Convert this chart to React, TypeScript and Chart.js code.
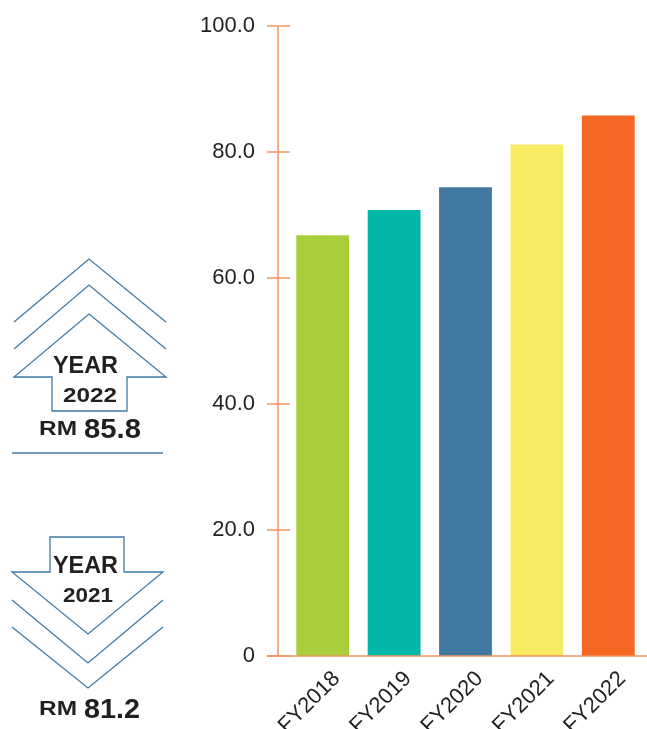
import React, { useEffect, useRef } from "react";
import { Chart, registerables } from "chart.js";

Chart.register(...registerables);

const categories: string[] = ["FY2018", "FY2019", "FY2020", "FY2021", "FY2022"];
const values: number[] = [66.8, 70.8, 74.4, 81.2, 85.8];
const barColors: string[] = ["#a8ce3b", "#00b7a8", "#4279a2", "#f7ec61", "#f46723"];
const yTicks: number[] = [0, 20, 40, 60, 80, 100];

const AXIS = "#f4935f";
const TEXT = "#231f20";
const BLUE = "#3f7aa6";

const axisPlugin = {
  id: "customAxes",
  afterDatasetsDraw(chart: any) {
    const { ctx, chartArea, scales } = chart;
    const y = scales.y;
    const axisX = chartArea.left - 9;
    ctx.save();
    ctx.strokeStyle = AXIS;
    ctx.lineWidth = 1.5;
    ctx.beginPath();
    ctx.moveTo(axisX, y.getPixelForValue(100));
    ctx.lineTo(axisX, y.getPixelForValue(0));
    ctx.stroke();
    yTicks.forEach((t) => {
      const py = y.getPixelForValue(t);
      ctx.beginPath();
      ctx.moveTo(axisX - 11, py);
      ctx.lineTo(axisX + 12, py);
      ctx.stroke();
    });
    const py0 = y.getPixelForValue(0);
    ctx.beginPath();
    ctx.moveTo(axisX - 11, py0);
    ctx.lineTo(chart.width, py0);
    ctx.stroke();
    ctx.restore();
  },
};

function ChartCanvas() {
  const ref = useRef<HTMLCanvasElement | null>(null);
  useEffect(() => {
    if (!ref.current) return;
    const chart = new Chart(ref.current, {
      type: "bar",
      data: {
        labels: categories,
        datasets: [
          {
            data: values,
            backgroundColor: barColors,
            borderWidth: 0,
            categoryPercentage: 1,
            barPercentage: 0.74,
          },
        ],
      },
      options: {
        responsive: false,
        animation: false,
        layout: { padding: { top: 26, right: 3, left: 0, bottom: 0 } },
        plugins: { legend: { display: false }, tooltip: { enabled: false } },
        scales: {
          x: {
            grid: { display: false, drawTicks: false },
            border: { display: false },
            ticks: {
              autoSkip: false,
              maxRotation: 45,
              minRotation: 45,
              padding: 10,
              labelOffset: 14,
              color: TEXT,
              font: { family: "Liberation Sans, Arial, sans-serif", size: 22 },
            },
            afterFit: (s: any) => {
              s.height = 73;
              s.paddingTop = 0;
              s.paddingBottom = 0;
              s.paddingLeft = 0;
              s.paddingRight = 0;
            },
          },
          y: {
            min: 0,
            max: 100,
            grid: { display: false, drawTicks: false },
            border: { display: false },
            afterBuildTicks: (s: any) => {
              s.ticks = yTicks.map((v) => ({ value: v }));
            },
            ticks: {
              padding: 32,
              color: TEXT,
              font: { family: "Liberation Sans, Arial, sans-serif", size: 22 },
              callback: (v: any) => (Number(v) === 0 ? "0" : Number(v).toFixed(1)),
            },
            afterFit: (s: any) => {
              s.width = 287;
              s.paddingTop = 0;
              s.paddingBottom = 0;
              s.paddingLeft = 0;
              s.paddingRight = 0;
            },
          },
        },
      },
      plugins: [axisPlugin],
    });
    return () => chart.destroy();
  }, []);
  return (
    <canvas
      ref={ref}
      width={647}
      height={729}
      style={{ position: "absolute", left: 0, top: 0, width: 647, height: 729 }}
    />
  );
}

function T(props: { x: number; y: number; w: number; size: number; children: string }) {
  return (
    <text
      x={props.x}
      y={props.y}
      textLength={props.w}
      lengthAdjust="spacingAndGlyphs"
      fontFamily="Liberation Sans, Arial, Helvetica, sans-serif"
      fontWeight="bold"
      fontSize={props.size}
      fill={TEXT}
    >
      {props.children}
    </text>
  );
}

function SidePanel() {
  const stroke = { fill: "none", stroke: BLUE, strokeWidth: 1.3 } as any;
  return (
    <svg
      width={180}
      height={729}
      style={{ position: "absolute", left: 0, top: 0 }}
      xmlns="http://www.w3.org/2000/svg"
    >
      {/* Up arrow 2022 */}
      <polyline points="14,322 89,259 166,322" {...stroke} />
      <polyline points="14,349 89,285 166,349" {...stroke} />
      <polygon points="89,314 166,377 127,377 127,411 52,411 52,377 14,377" {...stroke} />
      <T x={53} y={373} w={65} size={23}>YEAR</T>
      <T x={63} y={402} w={54} size={21}>2022</T>
      <T x={39} y={435} w={38} size={20}>RM</T>
      <T x={84} y={438} w={57} size={28}>85.8</T>
      <line x1={12} y1={453} x2={163} y2={453} stroke={BLUE} strokeWidth={1.3} />

      {/* Down arrow 2021 */}
      <polygon points="50,537 124,537 124,572 163,572 88,634 12,572 50,572" {...stroke} />
      <polyline points="12,600 88,663 163,600" {...stroke} />
      <polyline points="12,627 88,688 163,627" {...stroke} />
      <T x={53} y={573} w={65} size={23}>YEAR</T>
      <T x={63} y={602} w={50} size={21}>2021</T>
      <T x={39} y={715} w={38} size={20}>RM</T>
      <T x={84} y={718} w={56} size={28}>81.2</T>
    </svg>
  );
}

export default function App() {
  return (
    <div
      style={{
        position: "fixed",
        left: 0,
        top: 0,
        width: 647,
        height: 729,
        overflow: "hidden",
        background: "#ffffff",
      }}
    >
      <ChartCanvas />
      <SidePanel />
    </div>
  );
}
